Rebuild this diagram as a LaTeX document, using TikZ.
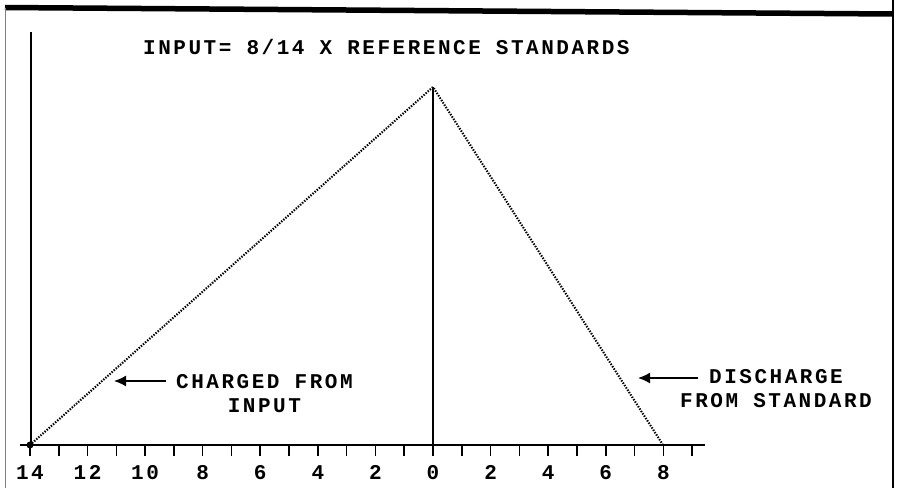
\documentclass[tikz,border=0pt]{standalone}
\usepackage{fontspec}
\newfontfamily\dotfont[LetterSpace=12]{Liberation Mono}
\usetikzlibrary{positioning,arrows.meta}

\begin{document}
\begin{tikzpicture}[x=1pt, y=-1pt,
    every node/.style={font=\dotfont\bfseries\fontsize{21}{24}\selectfont, inner sep=0pt},
    axisline/.style={line width=1.7pt},
    curve/.style={line width=2.1pt, dash pattern=on 1.4pt off 1.4pt},
    pointer/.style={line width=1.5pt, -{Latex[length=12pt,width=11pt]}}]
    \useasboundingbox (0,0) rectangle (898,488);

    % =========================================================
    % FRAME
    % =========================================================
    \draw[line width=5.5pt] (5,7.5) -- (893,14);
    \draw[line width=0.8pt, gray] (5,8) -- (5,488);
    \draw[line width=2.4pt] (893,0) -- (893,488);

    % =========================================================
    % AXES
    % =========================================================
    \coordinate (start) at (30,445);
    \coordinate (zero) at (433,445);
    \coordinate (peak) at (433,87);
    \coordinate (end) at (663,445);

    \draw[axisline] (31,32) -- (31,445);
    \draw[axisline] (peak) -- (zero);
    \draw[axisline] (20,445) -- (705,445);

    % Ticks below the axis
    \foreach \i in {-9,...,14}
        \draw[line width=1.6pt] ({433-\i*28.79},445) -- ({433-\i*28.79},456);

    % Tick labels
    \foreach \v/\lbl in {14/14,12/12,10/10,8/8,6/6,4/4,2/2,0/0,-2/2,-4/4,-6/6,-8/8}
        \node[anchor=base] (tick\v) at ({433-\v*28.79},479) {\lbl};

    % =========================================================
    % CHARGE / DISCHARGE RAMPS
    % =========================================================
    \draw[curve] (start) -- (peak) -- (end);
    \fill (start) circle (3.5pt);

    % =========================================================
    % LABELS
    % =========================================================
    \node[anchor=west] (title) at (143,47) {INPUT= 8/14 X REFERENCE STANDARDS};

    \node[anchor=west, align=center] (charged) at (176,394) {CHARGED FROM\\INPUT};
    \coordinate (chargedtip) at (114,381);
    \draw[pointer] (charged.west |- chargedtip) ++(-10,0) -- (chargedtip);

    \node[anchor=west, align=center] (discharge) at (680,389) {DISCHARGE\\FROM STANDARD};
    \coordinate (dischargetip) at (638,378);
    \draw[pointer] (698,378) -- (dischargetip);
\end{tikzpicture}
\end{document}
